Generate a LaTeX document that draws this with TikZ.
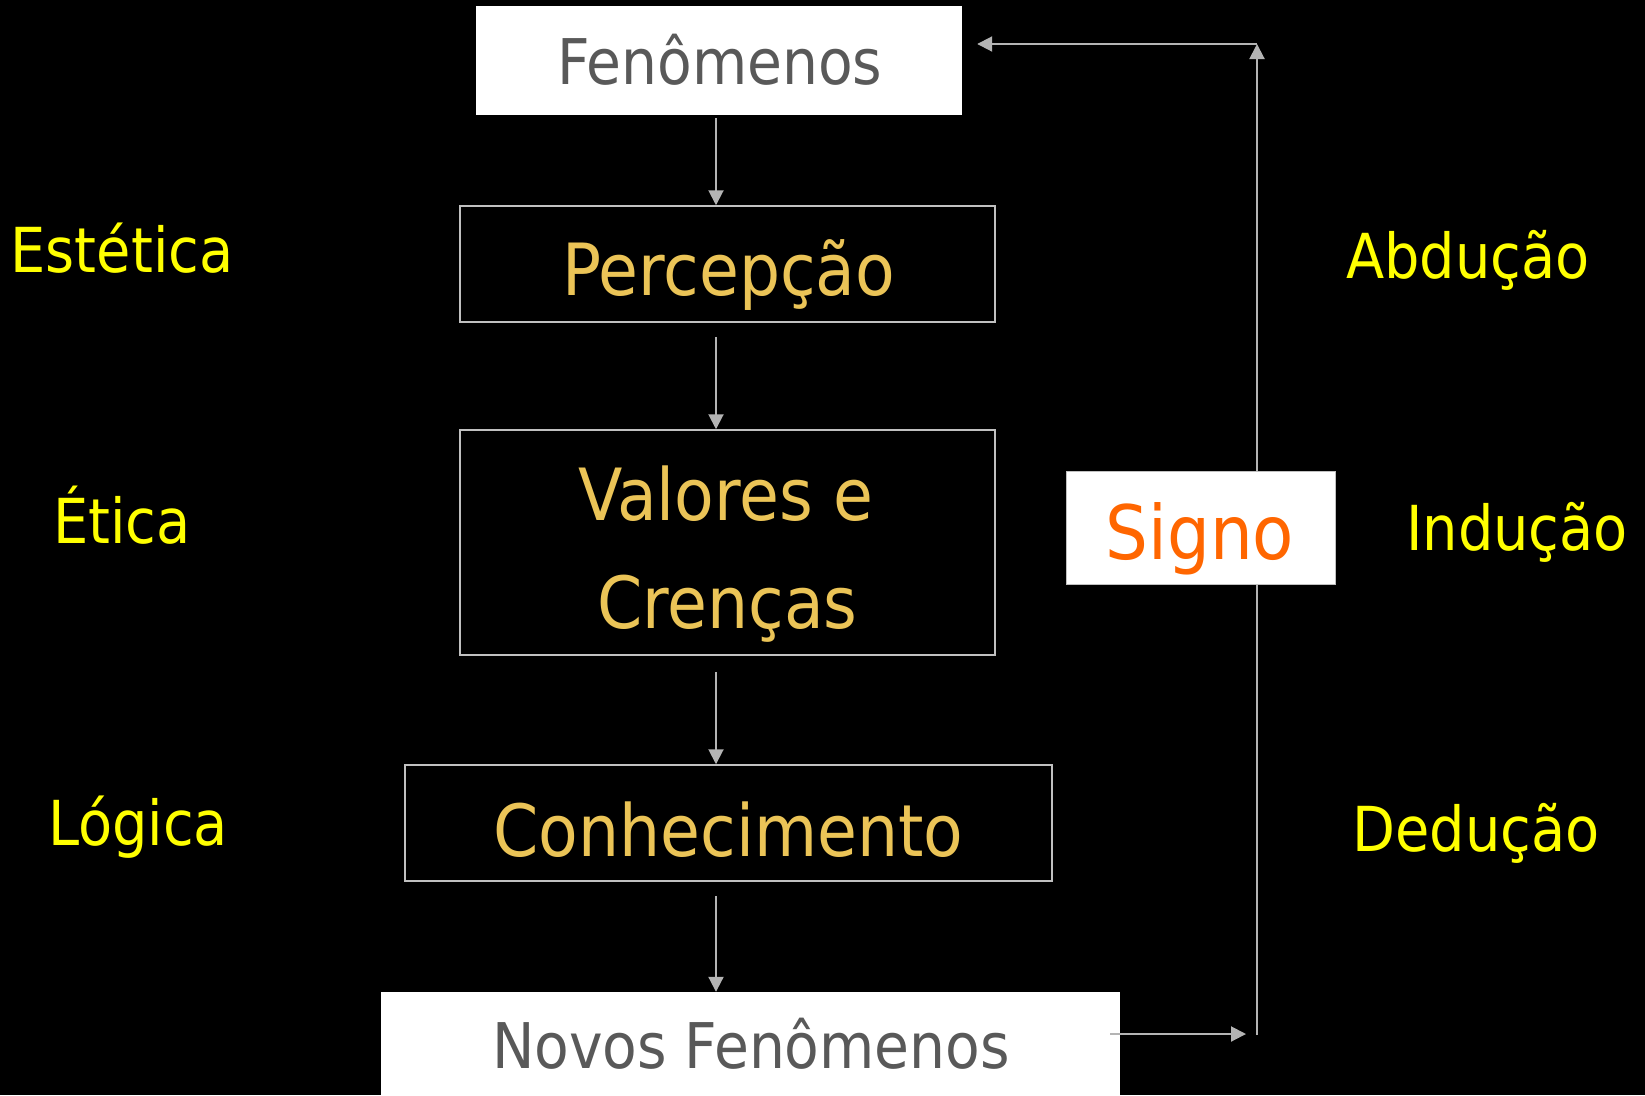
\documentclass[tikz,border=0pt]{standalone}
\usepackage{fontspec}
\setmainfont{DejaVu Sans Condensed}
\usetikzlibrary{arrows.meta}
\definecolor{boxtxt}{HTML}{EBC457}
\definecolor{sidetxt}{HTML}{FFFF00}
\definecolor{graytxt}{HTML}{595959}
\definecolor{signotxt}{HTML}{FF6600}
\definecolor{linegray}{HTML}{B4B4B4}
\definecolor{bordergray}{HTML}{C0C0C0}
\tikzset{
  darkbox/.style={draw=bordergray, line width=1.5pt, fill=black, inner sep=0pt, anchor=center},
  whitebox/.style={fill=white, inner sep=0pt, anchor=center},
  boxlabel/.style={text=boxtxt, anchor=base, inner sep=0pt, font=\fontsize{72}{86}\selectfont},
  sidelabel/.style={text=sidetxt, anchor=base, inner sep=0pt, font=\fontsize{62}{74}\selectfont},
  graylabel/.style={text=graytxt, anchor=base, inner sep=0pt, font=\fontsize{63}{76}\selectfont},
  arr/.style={draw=linegray, line width=2pt, -{Triangle[length=15pt,width=15pt]}},
  plainline/.style={draw=linegray, line width=2pt}
}
\begin{document}
\begin{tikzpicture}[x=1pt,y=-1pt]
\fill[black] (0,0) rectangle (1645,1095);
\useasboundingbox (0,0) rectangle (1645,1095);
% boxes
\node[whitebox, minimum width=486pt, minimum height=109pt] (fen) at (719,60.5) {};
\node[darkbox, minimum width=535pt, minimum height=116pt] (perc) at (727.5,264) {};
\node[darkbox, minimum width=535pt, minimum height=225pt] (val) at (727.5,542.5) {};
\node[darkbox, minimum width=647pt, minimum height=116pt] (con) at (728.5,823) {};
\node[whitebox, minimum width=739pt, minimum height=103pt] (nov) at (750.5,1043.5) {};
% box texts
\node[graylabel] (fent) at (720,84) {Fenômenos};
\node[boxlabel] (perct) at (728.5,295) {Percepção};
\node[boxlabel] (valt1) at (726,520) {Valores e};
\node[boxlabel] (valt2) at (727.5,628) {Crenças};
\node[boxlabel] (cont) at (728.5,856) {Conhecimento};
\node[graylabel] (novt) at (751,1068) {Novos Fenômenos};
% side labels
\node[sidelabel] (est) at (122,272) {Estética};
\node[sidelabel] (eti) at (122,543) {Ética};
\node[sidelabel] (log) at (138,845) {Lógica};
\node[sidelabel] (abd) at (1468,278) {Abdução};
\node[sidelabel] (ind) at (1517,550) {Indução};
\node[sidelabel] (ded) at (1476,851) {Dedução};
% vertical arrows
\coordinate (ax) at (716,0);
\draw[arr] ([yshift=-3pt]fen.south -| ax) -- (perc.north -| ax);
\draw[arr] ([yshift=-14pt]perc.south -| ax) -- (val.north -| ax);
\draw[arr] ([yshift=-16pt]val.south -| ax) -- (con.north -| ax);
\draw[arr] ([yshift=-14pt]con.south -| ax) -- (nov.north -| ax);
% feedback loop
\coordinate (loopB) at (1257,1034);
\coordinate (loopT) at (1257,44);
\draw[arr] ([xshift=-10pt]nov.east |- loopB) -- ([xshift=-11pt]loopB);
\draw[arr] ([yshift=-1pt]loopB) -- (loopT);
\draw[arr] (loopT) -- ([xshift=15pt]fen.east |- loopT);
% signo
\node[whitebox, draw=bordergray, line width=1pt, minimum width=269pt, minimum height=113pt] (signo) at (1200.5,527.5) {};
\node[anchor=base, inner sep=0pt, text=signotxt, font=\fontsize{75}{90}\selectfont] (signot) at (1200,559) {Signo};
\end{tikzpicture}
\end{document}
